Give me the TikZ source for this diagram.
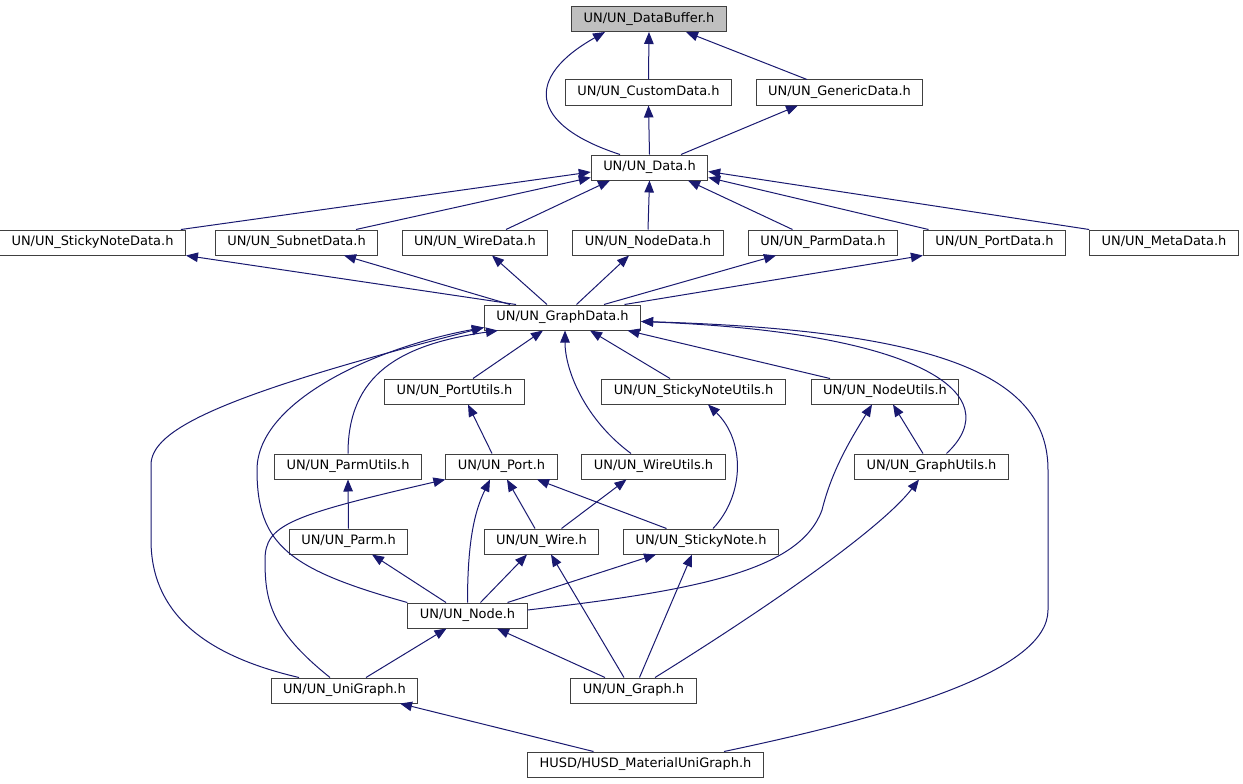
\documentclass[tikz,border=0pt]{standalone}
\usepackage{fontspec}
\setmainfont{DejaVu Sans}
\usepackage{tikz}
\usetikzlibrary{arrows.meta}
\definecolor{incblue}{RGB}{25,25,112}
\definecolor{rootgray}{RGB}{191,191,191}
\tikzset{
  file/.style={draw=black!75, line width=1pt, fill=white, inner xsep=12pt, inner ysep=0pt,
    minimum height=25pt, text height=9.6pt, text depth=3pt},
  root/.style={file, fill=rootgray},
  inc/.style={-{Triangle[length=12pt,width=9.5pt]}, line width=1pt, draw=incblue}
}

\begin{document}
\begin{tikzpicture}[x=1pt, y=-1pt, font={\fontsize{12.96pt}{15pt}\selectfont}]
\useasboundingbox (0,0) rectangle (1243,784);
% ---------- files, row by row ----------
\node[root] (db) at (649,19) {UN/UN\_DataBuffer.h};
\node[file] (cd)  at (648.5,92.5) {UN/UN\_CustomData.h};
\node[file] (gen) at (839.5,92.5) {UN/UN\_GenericData.h};
\node[file] (dat) at (649.5,167.5) {UN/UN\_Data.h};
\node[file] (snd) at (92.5,242.5)  {UN/UN\_StickyNoteData.h};
\node[file] (sub) at (296.5,242.5) {UN/UN\_SubnetData.h};
\node[file] (wd)  at (475,242.5)   {UN/UN\_WireData.h};
\node[file] (nd)  at (648,242.5)   {UN/UN\_NodeData.h};
\node[file] (pd)  at (823,242.5)   {UN/UN\_ParmData.h};
\node[file] (ptd) at (994.5,242.5) {UN/UN\_PortData.h};
\node[file] (md)  at (1164,242.5)  {UN/UN\_MetaData.h};
\node[file] (gd)  at (562.5,317.5) {UN/UN\_GraphData.h};
\node[file] (ptu) at (454.5,391.5) {UN/UN\_PortUtils.h};
\node[file] (snu) at (693.5,391.5) {UN/UN\_StickyNoteUtils.h};
\node[file] (nu)  at (885,391.5)   {UN/UN\_NodeUtils.h};
\node[file] (pu)  at (348,466.5)   {UN/UN\_ParmUtils.h};
\node[file] (prt) at (501.5,466.5) {UN/UN\_Port.h};
\node[file] (wu)  at (653.5,466.5) {UN/UN\_WireUtils.h};
\node[file] (gu)  at (931.5,466.5) {UN/UN\_GraphUtils.h};
\node[file] (prm) at (348.5,541.5) {UN/UN\_Parm.h};
\node[file] (wir) at (541.5,541.5) {UN/UN\_Wire.h};
\node[file] (sn)  at (701,541.5)   {UN/UN\_StickyNote.h};
\node[file] (nod) at (467.5,615.5) {UN/UN\_Node.h};
\node[file] (ug)  at (344.5,690.5) {UN/UN\_UniGraph.h};
\node[file] (gr)  at (633.5,690.5) {UN/UN\_Graph.h};
\node[file] (husd) at (645.5,764.5) {HUSD/HUSD\_MaterialUniGraph.h};
% ---------- includes: DataBuffer / Data ----------
\draw[inc] ([xshift=-29.5pt]dat.north) .. controls +(-92,-30) and +(-80,45) .. ([xshift=-44pt]db.south);
\draw[inc] (cd.north) -- (db.south);
\draw[inc] ([xshift=-32.5pt]gen.north) -- ([xshift=37pt]db.south);
\draw[inc] (dat.north) -- (cd.south);
\draw[inc] ([xshift=31.5pt]dat.north) -- ([xshift=-41.5pt]gen.south);
\draw[inc] ([xshift=-5pt]snd.north east) -- ([yshift=-4.5pt]dat.west);
\draw[inc] ([xshift=59.5pt]sub.north) -- ([yshift=-10pt]dat.west);
\draw[inc] ([xshift=31pt]wd.north) -- ([xshift=-39.5pt]dat.south);
\draw[inc] (nd.north) -- (dat.south);
\draw[inc] ([xshift=-30.5pt]pd.north) -- ([xshift=38.5pt]dat.south);
\draw[inc] ([xshift=-66pt]ptd.north) -- ([yshift=-10pt]dat.east);
\draw[inc] (md.north west) -- ([yshift=-4pt]dat.east);
% ---------- includes: GraphData ----------
\draw[inc] ([xshift=-46.5pt]gd.north) -- (snd.south east);
\draw[inc] ([xshift=-52.5pt]gd.north) -- ([xshift=47.5pt]sub.south);
\draw[inc] ([xshift=-15.5pt]gd.north) -- ([xshift=17pt]wd.south);
\draw[inc] ([xshift=14pt]gd.north) -- ([xshift=-19pt]nd.south);
\draw[inc] ([xshift=41.5pt]gd.north) -- ([xshift=-47pt]pd.south);
\draw[inc] ([xshift=62pt]gd.north) -- (ptd.south west);
\draw[inc] ([xshift=18.5pt]ptu.north) -- ([xshift=-19.5pt]gd.south);
\draw[inc] ([xshift=-23.5pt]snu.north) -- ([xshift=27.5pt]gd.south);
\draw[inc] ([xshift=-55pt]nu.north) -- ([xshift=65pt]gd.south);
\draw[inc] (pu.north) .. controls +(0,-79) and +(-98,14) .. ([xshift=-64.5pt]gd.south);
\draw[inc] ([xshift=-22.5pt]wu.north) .. controls +(-46,-34) and +(0,40) .. ([xshift=2.5pt]gd.south);
\draw[inc] ([xshift=15pt]gu.north) .. controls +(63,-59) and +(280,11) .. ([yshift=-4pt]gd.east);
\draw[inc] (nod.north west) .. controls +(-118,-33) and +(0,75) .. (257,470)
  .. controls +(0,-70) and +(-105,19) .. ([yshift=3pt]gd.south west);
\draw[inc] ([xshift=-45.5pt]ug.north) .. controls +(-99,-23) and +(0,70) .. (151,540) -- (151,465)
  .. controls +(0,-35) and +(-265,68) .. ([yshift=3pt]gd.south west);
\draw[inc] ([xshift=78.5pt]husd.north) .. controls +(176,-37) and +(0,60) .. (1048,610) -- (1048,470)
  .. controls +(0,-90) and +(310,9) .. ([yshift=-4pt]gd.east);
% ---------- includes: utils, port, wire ----------
\draw[inc] ([xshift=-9.5pt]prt.north) -- ([xshift=13.5pt]ptu.south);
\draw[inc] (prm.north) -- (pu.south);
\draw[inc] ([xshift=-14.5pt]ug.north) .. controls +(-60,-48) and +(0,40) .. (265,560)
  .. controls +(0,-35) and +(-156,36) .. (prt.south west);
\draw[inc] (nod.north) .. controls +(0,-63) and +(-15,31) .. ([xshift=-11.5pt]prt.south);
\draw[inc] ([xshift=-6.5pt]wir.north) -- ([xshift=5.5pt]prt.south);
\draw[inc] ([xshift=-34.5pt]sn.north) -- ([xshift=35.5pt]prt.south);
\draw[inc] ([xshift=20pt]wir.north) -- ([xshift=-27pt]wu.south);
\draw[inc] ([xshift=12pt]sn.north) .. controls +(32,-34) and +(37,36) .. ([xshift=14.5pt]snu.south);
\draw[inc] ([yshift=5.5pt]nod.east) .. controls +(173,-20) and +(-22,60) .. (822,510)
  .. controls +(10,-40) and +(-22,36) .. ([xshift=-13pt]nu.south);
\draw[inc] ([xshift=-8.5pt]gu.north) -- ([xshift=8pt]nu.south);
% ---------- includes: node, graphs ----------
\draw[inc] ([xshift=13pt]nod.north) -- ([xshift=-14.5pt]wir.south);
\draw[inc] ([xshift=-21.5pt]nod.north) -- ([xshift=23.5pt]prm.south);
\draw[inc] ([xshift=40pt]nod.north) -- ([xshift=-45pt]sn.south);
\draw[inc] ([xshift=-9.5pt]gr.north) -- ([xshift=9.5pt]wir.south);
\draw[inc] ([xshift=6pt]gr.north) -- ([xshift=-9pt]sn.south);
\draw[inc] ([xshift=21.5pt]gr.north) .. controls +(100,-62) and +(-40,52) .. ([xshift=-12.5pt]gu.south);
\draw[inc] ([xshift=21.5pt]ug.north) -- ([xshift=-21pt]nod.south);
\draw[inc] ([xshift=-28.5pt]gr.north) -- ([xshift=29.5pt]nod.south);
\draw[inc] ([xshift=-52pt]husd.north) -- ([xshift=55.5pt]ug.south);
\end{tikzpicture}
\end{document}
